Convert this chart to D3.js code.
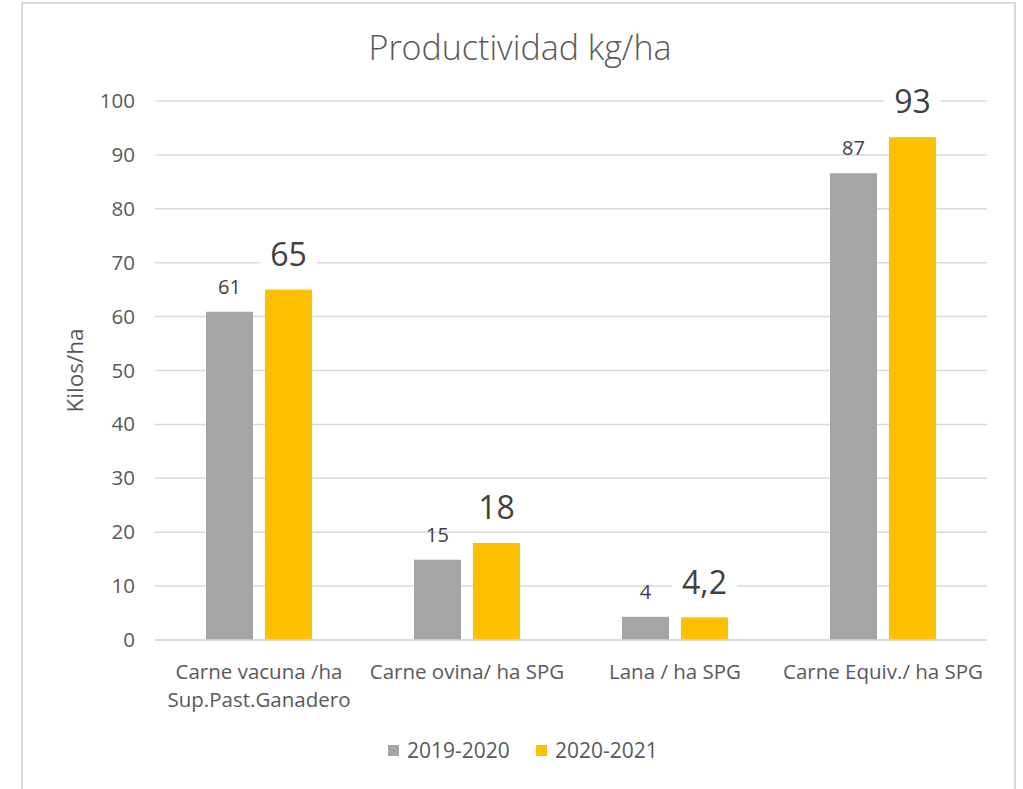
<!DOCTYPE html>
<html><head><meta charset="utf-8">
<script src="https://cdn.jsdelivr.net/npm/d3@7"></script>
<style>html,body{margin:0;padding:0;background:#fff;}svg{display:block;font-family:"Open Sans",Lato,sans-serif;}</style>
</head><body>
<svg id="c" width="1023" height="789"></svg>
<script>
const categories = [["Carne vacuna /ha","Sup.Past.Ganadero"],["Carne ovina/ ha SPG"],["Lana / ha SPG"],["Carne Equiv./ ha SPG"]];
const seriesNames = ["2019-2020","2020-2021"];
const values2019 = [60.9, 14.9, 4.3, 86.6];
const values2020 = [65, 18, 4.2, 93.3];
const yTicks = [0,10,20,30,40,50,60,70,80,90,100];
const colors = ["#A5A5A5","#FFC000"];

const svg = d3.select("#c");
svg.append("rect").attr("x",22).attr("y",3).attr("width",993).attr("height",800)
  .attr("fill","#fff").attr("stroke","#d9d9d9").attr("stroke-width",2);

const L=155, R=987, T=101, B=640;
const x = d3.scaleBand().domain(d3.range(categories.length)).range([L,R]).paddingInner(0).paddingOuter(0);
const y = d3.scaleLinear().domain([0,100]).range([B,T]);

svg.append("g").selectAll("line").data(yTicks).join("line")
  .attr("x1",L).attr("x2",R).attr("y1",d=>y(d)).attr("y2",d=>y(d))
  .attr("stroke","#d9d9d9").attr("stroke-width",1.5);

const yAxis = d3.axisLeft(y).tickValues(yTicks).tickSize(0).tickPadding(0);
const ga = svg.append("g").attr("transform",`translate(${L-20},0)`).call(yAxis);
ga.select(".domain").remove();
ga.selectAll("text").attr("font-size",20.5).attr("fill","#595959").attr("font-family","'Open Sans',sans-serif");

svg.append("text").attr("transform",`translate(83,${(T+B)/2}) rotate(-90)`)
  .attr("text-anchor","middle").attr("font-size",22.5).attr("fill","#595959").text("Kilos/ha");

svg.append("text").attr("x",520).attr("y",60).attr("text-anchor","middle")
  .attr("font-size",34).attr("font-weight",300).attr("fill","#595959").text("Productividad kg/ha");

const bw = 47, gap = 12;
const series = [values2019, values2020];
series.forEach((vals,si)=>{
  svg.append("g").selectAll("rect").data(vals).join("rect")
    .attr("x",(d,i)=> x(i)+x.bandwidth()/2 + (si===0 ? -gap/2-bw : gap/2))
    .attr("y",d=>y(d)).attr("width",bw).attr("height",d=>B-y(d))
    .attr("fill",colors[si]);
});
svg.append("line").attr("x1",L).attr("x2",R).attr("y1",B).attr("y2",B).attr("stroke","#d9d9d9").attr("stroke-width",1.5);

const fmtComma = v => (Math.round(v*10)/10).toString().replace(".",",");
svg.append("g").selectAll("text").data(values2019).join("text")
  .attr("x",(d,i)=> x(i)+x.bandwidth()/2 - gap/2 - bw/2)
  .attr("y",d=>y(d)-18).attr("text-anchor","middle")
  .attr("font-size",20).attr("fill","#404040").text(d=>Math.round(d));
const gl = svg.append("g").selectAll("g").data(values2020).join("g")
  .attr("transform",(d,i)=>`translate(${x(i)+x.bandwidth()/2 + gap/2 + bw/2},${y(d)-35})`);
gl.each(function(d){
  const g = d3.select(this);
  const label = Number.isInteger(d) ? String(d) : (d>10 ? String(Math.round(d)) : fmtComma(d));
  const t = g.append("text").attr("text-anchor","middle").attr("dy","0.35em")
    .attr("font-size",32).attr("fill","#404040").text(label);
  const bb = t.node().getBBox();
  g.insert("rect","text").attr("x",bb.x-10).attr("y",bb.y).attr("width",bb.width+20).attr("height",bb.height).attr("fill","#fff");
});

const cl = svg.append("g").selectAll("text").data(categories).join("text")
  .attr("text-anchor","middle").attr("font-size",20.5).attr("fill","#595959");
cl.each(function(lines,i){
  const t=d3.select(this);
  lines.forEach((ln,k)=>t.append("tspan").attr("x",x(i)+x.bandwidth()/2).attr("y",679+k*28).text(ln));
});

const leg = [{n:seriesNames[0],c:colors[0],x:388},{n:seriesNames[1],c:colors[1],x:536}];
const lg = svg.append("g").selectAll("g").data(leg).join("g").attr("transform",d=>`translate(${d.x},745)`);
lg.append("rect").attr("width",11).attr("height",11).attr("fill",d=>d.c);
lg.append("text").attr("x",19).attr("y",6).attr("dy","0.35em").attr("font-size",21).attr("fill","#595959").text(d=>d.n);
</script>
</body></html>
